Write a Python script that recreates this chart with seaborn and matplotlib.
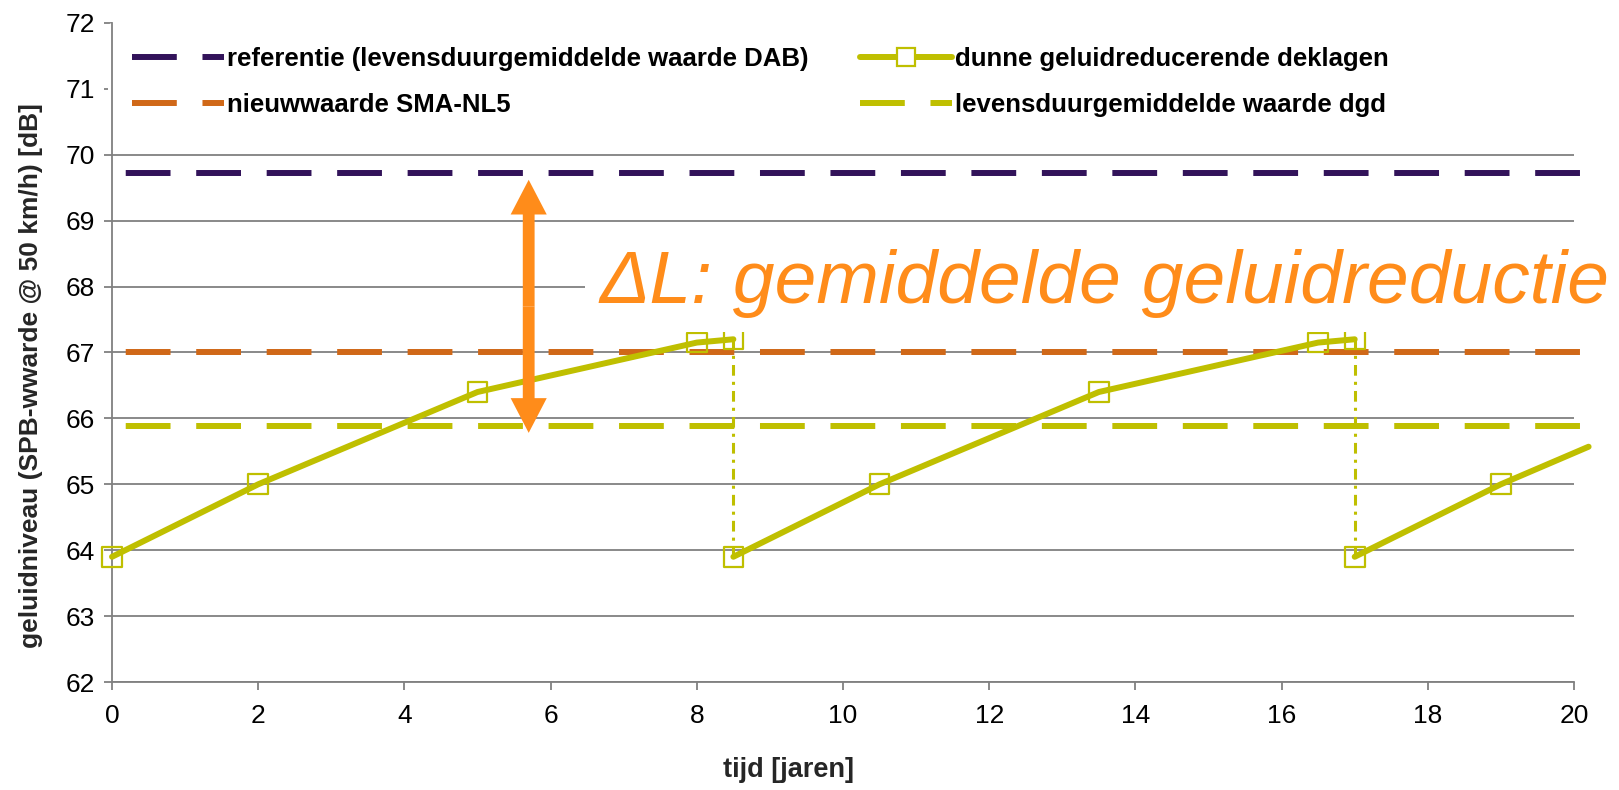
import matplotlib
matplotlib.use("Agg")
import matplotlib.pyplot as plt
from matplotlib.lines import Line2D
import seaborn as sns
import pandas as pd

# data
years = [0, 2, 5, 8, 8.5, 8.5, 10.5, 13.5, 16.5, 17, 17, 19, 20.2]
level = [63.9, 65.0, 66.4, 67.15, 67.2, 63.9, 65.0, 66.4, 67.15, 67.2, 63.9, 65.0, 65.57]
cycle = [1, 1, 1, 1, 1, 2, 2, 2, 2, 2, 3, 3, 3]
marker_years = [0, 2, 5, 8, 8.5, 8.5, 10.5, 13.5, 16.5, 17, 17, 19]
marker_level = [63.9, 65.0, 66.4, 67.15, 67.2, 63.9, 65.0, 66.4, 67.15, 67.2, 63.9, 65.0]
drop_years = [8.5, 17]
drop_top = [67.2, 67.2]
drop_bottom = [63.9, 63.9]

ref_level = 69.72      # referentie (levensduurgemiddelde waarde DAB)
new_level = 67.0       # nieuwwaarde SMA-NL5
dgd_level = 65.88      # levensduurgemiddelde waarde dgd
arrow_x = 5.7
arrow_top = 69.62
arrow_bottom = 65.78

PURPLE = "#32135a"
ORANGE = "#d06818"
OLIVE = "#bfbf00"
BRIGHT = "#ff8c1a"

df = pd.DataFrame({"tijd": years, "niveau": level, "cyclus": cycle})
markers = pd.DataFrame({"tijd": marker_years, "niveau": marker_level})

sns.set_style("white")
plt.rcParams["font.family"] = ["Liberation Sans", "DejaVu Sans"]
plt.rcParams["text.color"] = "black"
plt.rcParams["xtick.color"] = "black"
plt.rcParams["ytick.color"] = "black"

fig = plt.figure(figsize=(16.19, 7.9), dpi=100)
ax = fig.add_axes([0.0692, 0.1367, 0.9722 - 0.0692, 0.971 - 0.1367])

pattern = (7.5, 4.3)
for lvl, col in [(ref_level, PURPLE), (new_level, ORANGE), (dgd_level, OLIVE)]:
    h = ax.axhline(lvl, xmin=0, xmax=1.01, color=col, lw=4.3, ls=(9.5, pattern),
                   clip_on=False, zorder=2)
    h.set_dash_capstyle("butt")

ax.vlines(drop_years, drop_bottom, drop_top, colors=OLIVE, lw=2.2,
          linestyles=[(0, (3.5, 2.0, 1.0, 2.0))], zorder=2.2)

sns.lineplot(data=df, x="tijd", y="niveau", units="cyclus", estimator=None,
             sort=False, color=OLIVE, lw=4.3, ax=ax, zorder=3,
             solid_capstyle="round", legend=False)
for ln in ax.get_lines()[3:]:
    ln.set_clip_on(False)
sns.scatterplot(data=markers, x="tijd", y="niveau", marker="s", s=200,
                facecolor="none", edgecolor=OLIVE, linewidth=1.6, ax=ax, zorder=3.1,
                clip_on=False)

# legend handles
handles = [
    Line2D([], [], color=PURPLE, lw=4.3, ls=(0, pattern), dash_capstyle="butt",
           label="referentie (levensduurgemiddelde waarde DAB)"),
    Line2D([], [], color=ORANGE, lw=4.3, ls=(0, pattern), dash_capstyle="butt",
           label="nieuwwaarde SMA-NL5"),
    Line2D([], [], color=OLIVE, lw=4.3, marker="s", ms=13, mfc="white", mec=OLIVE,
           mew=1.6, solid_capstyle="round", label="dunne geluidreducerende deklagen"),
    Line2D([], [], color=OLIVE, lw=4.3, ls=(0, pattern), dash_capstyle="butt",
           label="levensduurgemiddelde waarde dgd"),
]

arrow_mid = (arrow_top + arrow_bottom) / 2
for tip in (arrow_top, arrow_bottom):
    ax.annotate("", xy=(arrow_x, tip), xytext=(arrow_x, arrow_mid),
                arrowprops=dict(arrowstyle="simple,head_length=2.5,head_width=2.6,tail_width=0.85",
                                fc=BRIGHT, ec="none", mutation_scale=10, shrinkA=0, shrinkB=0),
                zorder=4)

ax.text(6.67, 67.75, "\u0394L: gemiddelde geluidreductie", color=BRIGHT, fontsize=54,
        style="italic", ha="left", va="baseline", zorder=3.5, clip_on=False,
        bbox=dict(facecolor="white", edgecolor="none", pad=10))

ax.set_xlim(0, 20)
ax.set_ylim(62, 72)
ax.set_xticks(range(0, 21, 2))
ax.set_yticks(range(62, 73))
ax.yaxis.grid(True, color="#808080", lw=1.3)
ax.set_axisbelow(True)
# gridlines at 71 and 72 are hidden under the legend in the original
for gl in ax.yaxis.get_gridlines()[-2:]:
    gl.set_visible(False)
for side in ["top", "right"]:
    ax.spines[side].set_visible(False)
for side in ["left", "bottom"]:
    ax.spines[side].set_color("#808080")
    ax.spines[side].set_linewidth(1.3)
ax.tick_params(axis="both", direction="out", length=6, width=1.3, color="#808080",
               labelsize=19, left=True, bottom=True)
ax.tick_params(axis="x", pad=10)
ax.tick_params(axis="y", pad=6)

ax.set_xlabel("tijd [jaren]", fontsize=19.5, fontweight="bold")
ax.set_ylabel("geluidniveau (SPB-wwarde @ 50 km/h) [dB]", fontsize=19,
              fontweight="bold")
ax.xaxis.set_label_coords(0.463, -0.114)
ax.yaxis.set_label_coords(-0.047, 0.465)

leg = ax.legend(handles=handles, ncol=2, loc="upper left",
                bbox_to_anchor=(-0.003, 1.0), prop={"weight": "bold", "size": 18.5},
                frameon=True, facecolor="white", edgecolor="none", framealpha=1,
                handlelength=3.58, handletextpad=0.12, columnspacing=2.0,
                labelspacing=0.85, borderpad=0.95, borderaxespad=0)
leg.set_zorder(2.4)

fig.savefig("out.png", dpi=100)
plt.close(fig)
